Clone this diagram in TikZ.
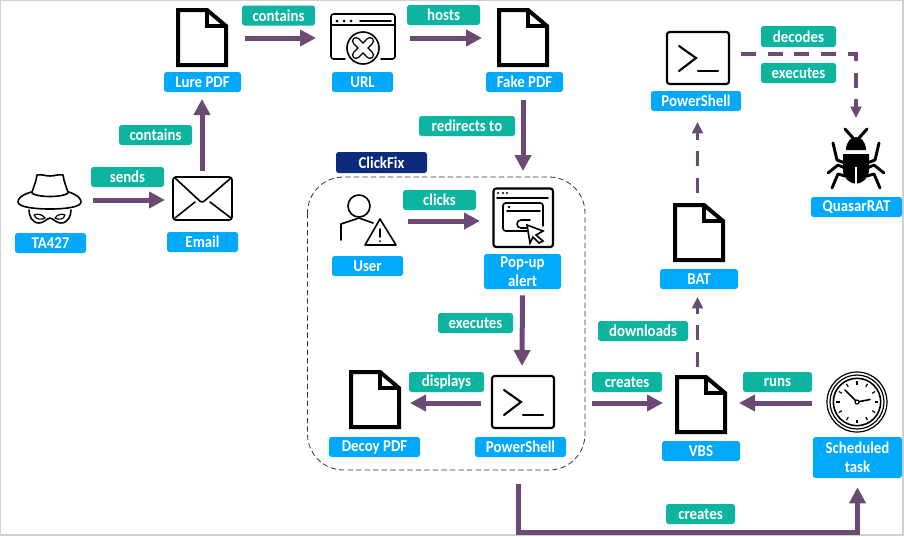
\documentclass[tikz,border=0pt]{standalone}
\usepackage{fontspec}
\setmainfont{Carlito}
\newfontfamily\tagfont[FakeStretch=0.9,BoldFont=Carlito Bold]{Carlito}
\usetikzlibrary{arrows.meta}
\definecolor{lblue}{HTML}{00A9FB}
\definecolor{lteal}{HTML}{0DB5A0}
\definecolor{lpurple}{HTML}{6B4A73}
\definecolor{lnavy}{HTML}{0C2B7C}
\definecolor{lframe}{HTML}{D0D0D0}
\tikzset{
  x=0.75pt,y=-0.75pt,
  bx/.style n args={2}{minimum width=#1*0.75pt,minimum height=#2*0.75pt},
  tag/.style={inner sep=0pt,rounded corners=2pt,text=white,align=center,
    font=\tagfont\fontsize{12.4}{14}\selectfont\bfseries},
  bluetag/.style={tag,fill=lblue},
  tealtag/.style={tag,fill=lteal},
  navytag/.style={tag,fill=lnavy},
  anchorbox/.style={inner sep=0pt,outer sep=0pt},
  flow/.style={draw=lpurple,line width=3.75pt,miter limit=10,
    -{Triangle[length=12pt,width=12pt]}},
  dflow/.style={draw=lpurple,line width=2.7pt,dash pattern=on 11.25pt off 8.8pt,
    -{Triangle[length=8.5pt,width=8pt]}},
  ink/.style={draw=black,line width=1.2pt,line cap=round,line join=round},
  docicon/.pic={
    \draw[black,fill=white,line width=3pt,miter limit=10]
      (0,0)--(29,0)--(48,16)--(48,55)--(0,55)--cycle;
    \draw[black,line width=3pt,miter limit=10] (29,0)--(29,16)--(48,16);
  },
  shellicon/.pic={
    \draw[black,fill=white,line width=1.6pt,rounded corners=2pt] (0,0) rectangle (62,52);
    \draw[black,line width=1.6pt,line cap=round,line join=miter] (12,14)--(29,26)--(12,39);
    \draw[black,line width=1.6pt,line cap=round] (31,39)--(51,39);
  }
}
\begin{document}
\begin{tikzpicture}
\useasboundingbox (0,0) rectangle (904,536);
\fill[white] (0,0) rectangle (904,536);
\draw[lframe,line width=1.1pt] (0.7,0.7) rectangle (903,535);

% ClickFix group frame
\draw[draw=lpurple!60!black,line width=0.6pt,dash pattern=on 4pt off 2.4pt,rounded corners=27pt]
  (307.5,177) rectangle (585,470);

% Clearance boxes: their anchors are the connector ends
\node[anchorbox,bx={82}{92}] (ta) at (52,200) {};
\node[anchorbox,bx={74}{58}] (email) at (202,200) {};
\node[anchorbox,bx={86}{122}] (lure) at (202,38) {};
\node[anchorbox,bx={94}{60}] (url) at (363,38) {};
\node[anchorbox,bx={82}{124}] (fake) at (523,38) {};
\node[anchorbox,bx={80}{60}] (user) at (368,221) {};
\node[anchorbox,bx={86}{100}] (popup) at (523,221) {};
\node[anchorbox,bx={82}{74}] (shelllow) at (522,403) {};
\node[anchorbox,bx={70}{70}] (decoy) at (375,403) {};
\node[anchorbox,bx={76}{72}] (vbs) at (701,403) {};
\node[anchorbox,bx={90}{70}] (clock) at (857,403) {};
\node[anchorbox,bx={60}{104}] (bat) at (697.5,245) {};
\node[anchorbox,bx={87}{136}] (shelltop) at (697.5,54) {};
\node[anchorbox,bx={60}{84}] (bug) at (856,160) {};

% Documents
\pic at (178,10) {docicon};
\pic at (499,10) {docicon};
\pic at (351,372) {docicon};
\pic at (677,377) {docicon};
\pic at (675,205) {docicon};
% Shells
\pic at (667,32) {shellicon};
\pic at (492,376) {shellicon};

% Spy
\begin{scope}[ink]
\draw[fill=white] (31,195) .. controls (34,186) and (36,182) .. (37,175)
  .. controls (42,174) and (45,176) .. (50,176) .. controls (55,176) and (58,174) .. (63,175)
  .. controls (64,182) and (66,186) .. (69,195);
\draw[fill=white] (31,192) .. controls (22,195) and (18,198) .. (18,202)
  .. controls (18,207) and (34,209) .. (50,209) .. controls (66,209) and (81,207) .. (81,202)
  .. controls (81,198) and (77,195) .. (69,192)
  .. controls (66,198) and (34,198) .. (31,192);
\draw (29,210) .. controls (29,216) and (32,223) .. (39,223)
  .. controls (44,223) and (46,219) .. (50,218) .. controls (54,219) and (56,223) .. (61,223)
  .. controls (68,223) and (71,216) .. (71,210);
\draw[line width=0.9pt] (34,215) .. controls (38,213) and (43,215) .. (45,218)
  .. controls (42,220) and (36,220) .. (34,215);
\draw[line width=0.9pt] (65,215) .. controls (61,213) and (57,215) .. (55,218)
  .. controls (58,220) and (64,220) .. (65,215);
\end{scope}

% Envelope
\begin{scope}[ink]
\draw[rounded corners=2pt] (173,177) rectangle (232,220);
\draw[rounded corners=2pt] (175,178)--(202,203)--(231,178);
\draw (175,218)--(195,202);
\draw (231,218)--(210,202);
\end{scope}

% URL window
\begin{scope}[ink]
\draw[rounded corners=2pt] (345,59)--(331,59)--(331,14)--(395,14)--(395,59)--(381,59);
\draw (331,25)--(395,25);
\draw (360,21)--(391,21);
\fill (337,21) circle (1.5) (344,21) circle (1.5) (351,21) circle (1.5);
\draw[fill=white] (363,48) circle (16);
\draw[black,line width=6.2pt,line cap=round] (356,41)--(370,55) (370,41)--(356,55);
\draw[white,line width=4pt,line cap=round] (356,41)--(370,55) (370,41)--(356,55);
\end{scope}

% User
\begin{scope}[ink]
\draw (359,206) circle (11);
\draw (341,240)--(341,224)--(359,218)--(373,223);
\draw[fill=white,line join=round] (380,219)--(365,245)--(396,245)--cycle;
\draw (380,229)--(380,237);
\fill (380,241) circle (1);
\end{scope}

% Pop-up window
\begin{scope}[ink]
\draw[line width=1.6pt,rounded corners=2pt] (493.5,188.5) rectangle (553,247);
\draw (497,198)--(548,198);
\fill (498,193) circle (1.2) (503,193) circle (1.2) (507,193) circle (1.2);
\draw[rounded corners=2pt] (527,231)--(503,231)--(503,203)--(543,203)--(543,226);
\draw (507,211)--(540,211);
\fill (509,207) circle (1.4);
\draw[rounded corners=3pt] (528,228)--(517,228)--(517,220)--(530,220);
\draw[fill=white,line join=miter] (527,225)--(543,231)--(536,235)--(543,241)--(539,243)--(533,237)--(530,243)--cycle;
\end{scope}

% Bug
\begin{scope}[black]
\fill (846,150) .. controls (846,142) and (851,137) .. (856,137)
  .. controls (861,137) and (866,142) .. (866,150) -- cycle;
\fill (843,154) -- (869,154) -- (869,170) .. controls (869,178) and (863,183) .. (856,184)
  .. controls (849,183) and (843,178) .. (843,170) -- cycle;
\draw[white,line width=0.9pt] (856,167)--(856,185);
\begin{scope}[line width=2.2pt,line cap=round,line join=round]
\draw (845,129)--(853,138);
\draw (867,129)--(859,138);
\draw (833,143)--(837,160)--(845,163);
\draw (879,143)--(875,160)--(867,163);
\draw (828,173)--(838,165)--(845,168);
\draw (884,173)--(874,165)--(867,168);
\draw (832,188)--(838,174)--(845,176);
\draw (880,188)--(874,174)--(867,176);
\end{scope}
\end{scope}

% Clock
\begin{scope}[shift={(857,402)}]
\draw[black,line width=0.9pt,fill=white] (0,0) circle (30);
\draw[black,line width=0.9pt] (0,0) circle (27);
\draw[black,line width=1.2pt] (0,0) circle (23.7);
\foreach \a in {0,30,...,330}{
  \draw[black,line width=0.9pt] (\a:17.5) -- (\a:21);
}
\draw[black,line width=1.2pt,line cap=round] (0,0)--(-12,-12);
\draw[black,line width=1.2pt,line cap=round] (0,0)--(13,-2.5);
\draw[black,line width=0.9pt,fill=white] (0,0) circle (2);
\end{scope}

% Blue tags
\node[bluetag,bx={71}{20}] (tal) at (50.5,243) {TA427};
\node[bluetag,bx={71}{20}] (emaill) at (202.5,242) {Email};
\node[bluetag,bx={77}{20}] (lurel) at (202.5,82) {Lure PDF};
\node[bluetag,bx={61}{20}] (urll) at (362.5,82) {URL};
\node[bluetag,bx={77}{20}] (fakel) at (524.5,82) {Fake PDF};
\node[bluetag,bx={71}{20}] (userl) at (367.5,266) {User};
\node[bluetag,bx={77}{35}] (popl) at (522.5,271.5) {Pop-up\\alert};
\node[bluetag,bx={90}{20}] (shelltopl) at (696,101) {PowerShell};
\node[bluetag,bx={91}{20}] (quasarl) at (856.5,207) {QuasarRAT};
\node[bluetag,bx={78}{20}] (batl) at (699,279) {BAT};
\node[bluetag,bx={91}{20}] (shelllowl) at (520.5,447) {PowerShell};
\node[bluetag,bx={91}{20}] (decoyl) at (374.5,447) {Decoy PDF};
\node[bluetag,bx={78}{20}] (vbsl) at (701,451) {VBS};
\node[bluetag,bx={89}{41}] (schedl) at (857.5,457.5) {Scheduled\\task};

% Navy tag
\node[navytag,bx={91}{21}] (clickfix) at (381.5,162.5) {ClickFix};

% Teal tags
\node[tealtag,bx={73}{20}] (tsends) at (127.5,177) {sends};
\node[tealtag,bx={73}{20}] (tcontainsa) at (155.5,135) {contains};
\node[tealtag,bx={73}{20}] (tcontainsb) at (278.5,15.5) {contains};
\node[tealtag,bx={73}{20}] (thosts) at (443.5,15) {hosts};
\node[tealtag,bx={96}{20}] (tredirects) at (467,126) {redirects to};
\node[tealtag,bx={73}{20}] (tclicks) at (439.5,200) {clicks};
\node[tealtag,bx={75}{20}] (texecutesa) at (475.5,323) {executes};
\node[tealtag,bx={75}{20}] (tdisplays) at (446.5,382) {displays};
\node[tealtag,bx={70}{20}] (tcreatesa) at (627,382) {creates};
\node[tealtag,bx={69}{20}] (truns) at (777.5,382) {runs};
\node[tealtag,bx={69}{20}] (tcreatesb) at (700.5,514) {creates};
\node[tealtag,bx={90}{20}] (tdownloads) at (643,331) {downloads};
\node[tealtag,bx={75}{21}] (tdecodes) at (798.5,36.5) {decodes};
\node[tealtag,bx={75}{20}] (texecutesb) at (798.5,73) {executes};

% Connectors
\draw[flow] (ta.east) -- (email.west);
\draw[flow] (email.north) -- (lure.south);
\draw[flow] (lure.east) -- (url.west);
\draw[flow] (url.east) -- (fake.west);
\draw[flow] (fake.south) -- (popup.north);
\draw[flow] (user.east) -- (popup.west);
\draw[flow,shorten <=4.5pt] (popl.south) -- (shelllow.north);
\draw[flow] (shelllow.west) -- (decoy.east);
\draw[flow,shorten <=21.75pt] (shelllow.east) -- (vbs.west);
\draw[flow] (clock.west) -- (vbs.east);
\coordinate (shellout) at (518,484);
\coordinate (shellbend) at (518,532);
\draw[flow,shorten >=6.75pt] (shellout) -- (shellbend) -| (schedl.south);
\draw[dflow] (bat.south |- vbs.north) -- (bat.south);
\draw[dflow] (bat.north) -- (shelltop.south);
\draw[dflow] (shelltop.east) -| (bug.north);
\end{tikzpicture}
\end{document}
